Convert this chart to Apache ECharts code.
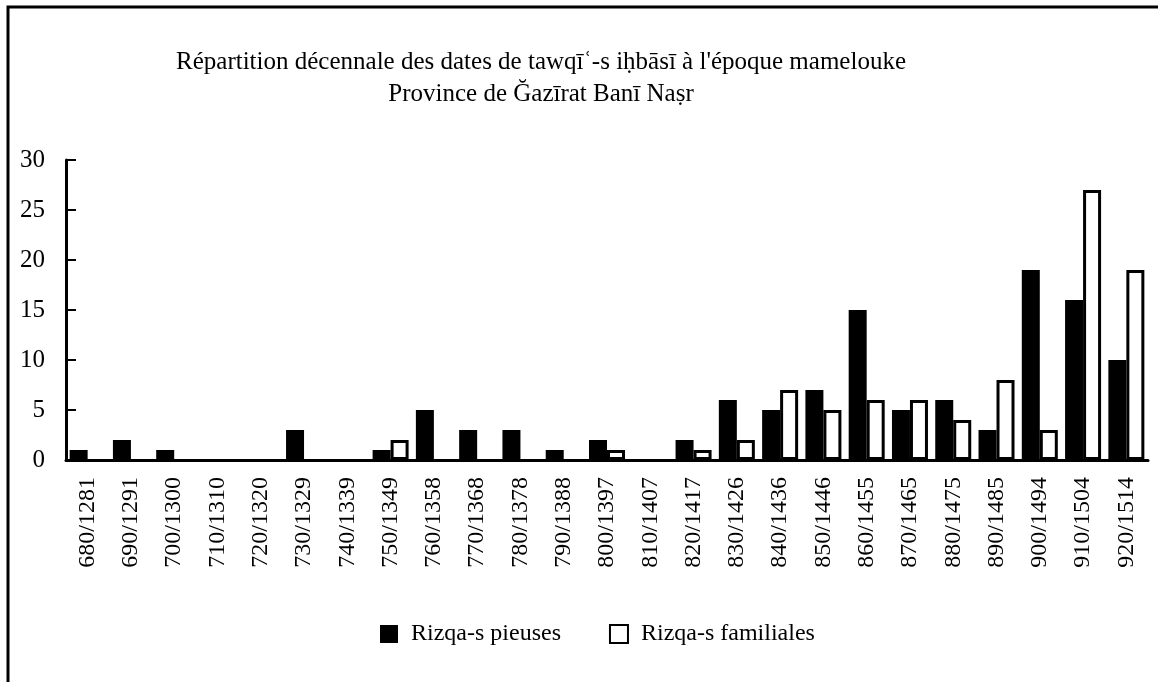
<!DOCTYPE html>
<html>
<head>
<meta charset="utf-8">
<script src="https://cdn.jsdelivr.net/npm/echarts@6/dist/echarts.min.js"></script>
<style>
  html, body { margin: 0; padding: 0; background: #fff; }
  #chart { width: 1158px; height: 682px; }
</style>
</head>
<body>
<div id="chart"></div>
<script>
// décennies hégire / grégorien
var periods = ['680/1281', '690/1291', '700/1300', '710/1310', '720/1320', '730/1329', '740/1339',
  '750/1349', '760/1358', '770/1368', '780/1378', '790/1388', '800/1397', '810/1407', '820/1417',
  '830/1426', '840/1436', '850/1446', '860/1455', '870/1465', '880/1475', '890/1485', '900/1494',
  '910/1504', '920/1514'];
var pieuses = [1, 2, 1, 0, 0, 3, 0, 1, 5, 3, 3, 1, 2, 0, 2, 6, 5, 7, 15, 5, 6, 3, 19, 16, 10];
var familiales = [0, 0, 0, 0, 0, 0, 0, 2, 0, 0, 0, 0, 1, 0, 1, 2, 7, 5, 6, 6, 4, 8, 3, 27, 19];
var yTicks = [0, 5, 10, 15, 20, 25, 30];

var serif = '"Liberation Serif", "DejaVu Serif", serif';

// pas de barre dessinée pour les valeurs nulles
function noZero(arr) {
  return arr.map(function (v) { return v === 0 ? '-' : v; });
}

var option = {
  backgroundColor: '#fff',
  animation: false,
  textStyle: { fontFamily: serif, color: '#000' },
  title: {
    left: 536,
    textAlign: 'center',
    top: 41,
    text: "Répartition décennale des dates de tawqīʿ-s iḥbāsī à l'époque mamelouke\nProvince de Ğazīrat Banī Naṣr",
    textStyle: { fontFamily: serif, fontSize: 25, fontWeight: 'normal', color: '#000', lineHeight: 32 }
  },
  graphic: [{
    type: 'rect',
    shape: { x: 8, y: 7, width: 1300, height: 800 },
    style: { fill: null, stroke: '#000', lineWidth: 3 },
    silent: true
  }],
  legend: {
    left: 375,
    top: 617,
    itemWidth: 18,
    itemHeight: 18,
    itemGap: 48,
    icon: 'rect',
    textStyle: { fontFamily: serif, fontSize: 24, color: '#000', padding: [0, 0, 0, 8] },
    data: ['Rizqa-s pieuses', 'Rizqa-s familiales']
  },
  grid: { left: 66, right: 10, top: 160, bottom: 222, containLabel: false },
  xAxis: {
    type: 'category',
    data: periods,
    axisLine: { lineStyle: { color: '#000', width: 3 } },
    axisTick: { show: false },
    axisLabel: { rotate: 90, margin: 17, fontFamily: serif, fontSize: 24, color: '#000', interval: 0 }
  },
  yAxis: {
    type: 'value',
    min: yTicks[0],
    max: yTicks[yTicks.length - 1],
    interval: 5,
    splitLine: { show: false },
    axisLine: { show: true, lineStyle: { color: '#000', width: 3 } },
    axisTick: { show: true, inside: true, length: 10, lineStyle: { color: '#000', width: 2 } },
    axisLabel: { margin: 21, fontFamily: serif, fontSize: 25, color: '#000' }
  },
  series: [
    {
      name: 'Rizqa-s pieuses',
      type: 'bar',
      data: noZero(pieuses),
      barWidth: 18,
      barGap: '0%',
      itemStyle: { color: '#000', borderColor: '#000', borderWidth: 0 }
    },
    {
      name: 'Rizqa-s familiales',
      type: 'bar',
      data: noZero(familiales),
      barWidth: 18,
      itemStyle: { color: '#fff', borderColor: '#000', borderWidth: 3 }
    }
  ]
};

var chart = echarts.init(document.getElementById('chart'));
chart.setOption(option, true);
</script>
</body>
</html>
